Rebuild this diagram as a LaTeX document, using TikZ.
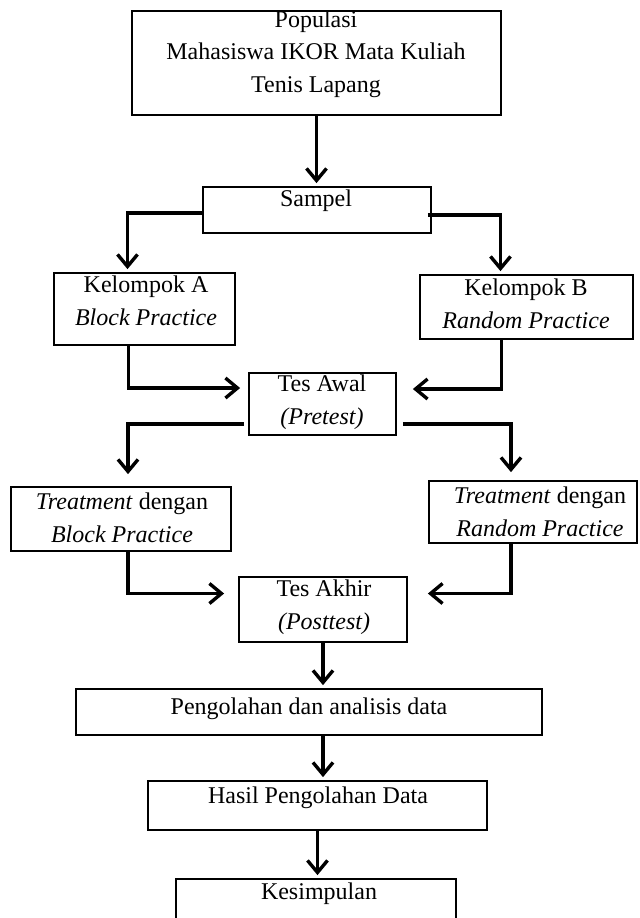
\documentclass[tikz,border=0pt]{standalone}
\usepackage{fontspec}
\setmainfont{Liberation Serif}
\usetikzlibrary{arrows.meta,calc}
\begin{document}
\begin{tikzpicture}[x=0.5pt,y=-0.5pt,
  box/.style={draw, line width=0.9pt, inner sep=0pt, rectangle},
  txt/.style={inner sep=0pt, align=center, font=\fontsize{12}{16.25}\selectfont},
  arr/.style={line width=1.7pt, line join=miter, -{Straight Barb[length=6pt,width=10pt,line width=1.7pt]}, shorten >=1.5pt}]
\useasboundingbox (0,0) rectangle (639,918);
% boxes
\node[box, minimum width=184.5pt, minimum height=52pt] (pop) at (316.5,63) {};
\node[box, minimum width=114pt, minimum height=23pt] (sampel) at (317,210) {};
\node[box, minimum width=90.5pt, minimum height=36pt] (kelA) at (144.5,309) {};
\node[box, minimum width=106.5pt, minimum height=32pt] (kelB) at (526.5,307) {};
\node[box, minimum width=73.5pt, minimum height=31pt] (tesawal) at (322.5,404) {};
\node[box, minimum width=110pt, minimum height=32pt] (treatA) at (121,519) {};
\node[box, minimum width=104pt, minimum height=31pt] (treatB) at (533,512) {};
\node[box, minimum width=84pt, minimum height=32.5pt] (tesakhir) at (323,609.5) {};
\node[box, minimum width=233pt, minimum height=23pt] (olah) at (309,712) {};
\node[box, minimum width=169.5pt, minimum height=24.5pt] (hasil) at (317.5,805.5) {};
\node[box, minimum width=140pt, minimum height=25pt] (kes) at (316,904) {};
% texts
\node[txt] (popt) at (316,54) {Populasi\\Mahasiswa IKOR Mata Kuliah\\Tenis Lapang};
\node[txt] (sampelt) at (316,201) {Sampel};
\node[txt] (kelAt) at (146,301) {Kelompok A\\\textit{Block Practice}};
\node[txt] (kelBt) at (526,304) {Kelompok B\\\textit{Random Practice}};
\node[txt] (tesawalt) at (322,402) {Tes Awal\\\textit{(Pretest)}};
\node[txt] (treatAt) at (122,518) {\textit{Treatment} dengan\\\textit{Block Practice}};
\node[txt] (treatBt) at (540,512) {\textit{Treatment} dengan\\\textit{Random Practice}};
\node[txt] (tesakhirt) at (324,607) {Tes Akhir\\\textit{(Posttest)}};
\node[txt] (olaht) at (309,709) {Pengolahan dan analisis data};
\node[txt] (hasilt) at (318,798) {Hasil Pengolahan Data};
\node[txt] (kest) at (319,894) {Kesimpulan};
% connectors
\draw[arr] (pop.south) -- (pop.south |- sampel.north);
\draw[arr] ($(sampel.west)+(0,3)$) -| ($(kelA.north)+(-17,0)$);
\draw[arr] ($(sampel.east)+(-4,5)$) -| ($(kelB.north)+(-26,0)$);
\draw[arr, shorten >=4pt] ($(kelA.south)+(-16,0)$) |- ($(tesawal.west)+(0,-16)$);
\draw[arr, shorten >=8pt] ($(kelB.south)+(-25,0)$) |- ($(tesawal.east)+(0,-15)$);
\draw[arr, shorten >=6pt] ($(tesawal.west)+(-4,20)$) -| ($(treatA.north)+(7,0)$);
\draw[arr, shorten >=4pt] ($(tesawal.east)+(6,20)$) -| ($(treatB.north)+(-22,0)$);
\draw[arr, shorten >=7pt] ($(treatA.south)+(7,0)$) |- ($(tesakhir.west)+(0,-16)$);
\draw[arr, shorten >=10pt] ($(treatB.south)+(-22,0)$) |- ($(tesakhir.east)+(0,-16)$);
\draw[arr] (tesakhir.south) -- (tesakhir.south |- olah.north);
\draw[arr] (tesakhir.south |- olah.south) -- (tesakhir.south |- hasil.north);
\draw[arr] (hasil.south) -- (hasil.south |- kes.north);
\end{tikzpicture}
\end{document}
